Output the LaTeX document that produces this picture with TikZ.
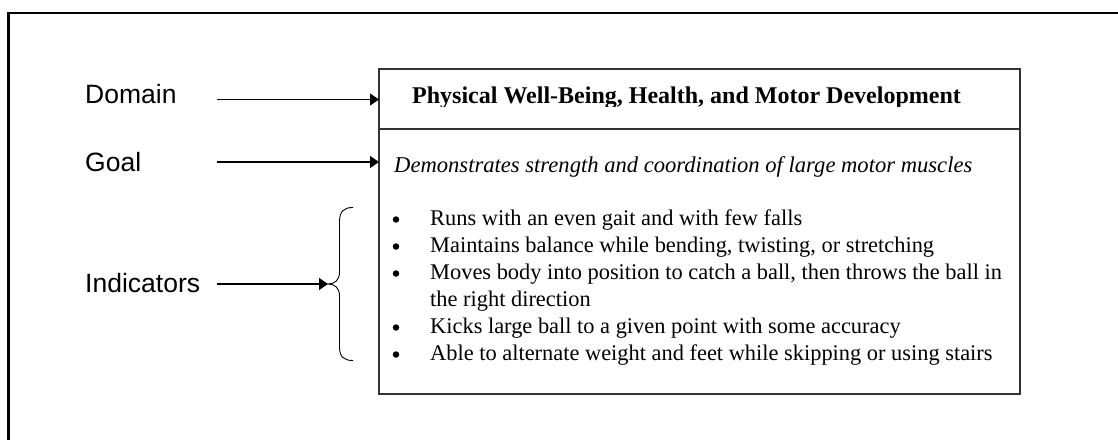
\documentclass[tikz,border=0pt]{standalone}
\usepackage{fontspec}
\setmainfont{Liberation Serif}
\newfontfamily\arialfont{Liberation Sans}
\usetikzlibrary{arrows.meta}
\definecolor{boxgray}{HTML}{333333}
\tikzset{
  lbl/.style={anchor=base west, inner sep=0pt, font=\arialfont\fontsize{26.5}{30}\selectfont},
  conn/.style={line width=1.1pt, -{Triangle[length=9pt,width=12pt]}},
  itemtxt/.style={anchor=base west, inner sep=0pt, font=\fontsize{22.4}{27}\selectfont},
  bul/.style={circle, fill=black, inner sep=0pt, minimum size=6.5pt},
}
\begin{document}
\begin{tikzpicture}[x=1pt,y=-1pt]
\useasboundingbox (0,0) rectangle (1118,439);
% outer frame (open at right and bottom)
\draw[line width=2.2pt] (8.5,440) -- (8.5,13) -- (1119,13);
% main box
\draw[boxgray, line width=1.6pt] (379,69) rectangle (1020,394);
\draw[boxgray, line width=1.6pt] (379,129) -- (1020,129);
% title (clipped at the bottom as in the reference)
\begin{scope}
  \clip (380,70) rectangle (1019,106);
  \node[anchor=base west, inner sep=0pt, font=\bfseries\fontsize{24}{28}\selectfont] (title) at (412,103) {Physical Well-Being, Health, and Motor Development};
\end{scope}
% goal text
\node[anchor=base west, inner sep=0pt, font=\itshape\fontsize{22.6}{27}\selectfont] (goaltxt) at (394,172.5) {Demonstrates strength and coordination of large motor muscles};
% indicators list
\node[bul] (b1) at (396,219.5) {};
\node[bul] (b2) at (396,246.5) {};
\node[bul] (b3) at (396,273.5) {};
\node[bul] (b4) at (396,327.5) {};
\node[bul] (b5) at (396,354.5) {};
\node[itemtxt] (i1) at (430,225) {Runs with an even gait and with few falls};
\node[itemtxt] (i2) at (430,252) {Maintains balance while bending, twisting, or stretching};
\node[itemtxt] (i3) at (430,279) {Moves body into position to catch a ball, then throws the ball in};
\node[itemtxt] (i3b) at (430,306) {the right direction};
\node[itemtxt] (i4) at (430,333) {Kicks large ball to a given point with some accuracy};
\node[itemtxt] (i5) at (430,360) {Able to alternate weight and feet while skipping or using stairs};
% labels
\node[lbl] (dom) at (85,103) {Domain};
\node[lbl] (goal) at (85,171.5) {Goal};
\node[lbl] (ind) at (85,292) {Indicators};
% connector ends
\coordinate (domstart) at (217,99.5);
\coordinate (domend) at (379,99.5);
\coordinate (goalstart) at (217,162);
\coordinate (goalend) at (379,162);
\coordinate (indstart) at (217,284);
\coordinate (braceTip) at (328,284);
\draw[conn] (domstart) -- (domend);
\draw[conn] (goalstart) -- (goalend);
\draw[conn] (indstart) -- (braceTip);
% brace
\draw[line width=0.9pt] (353,207.5) .. controls (344,207.5) and (339.5,211) .. (339.5,222)
  -- (339.5,272) .. controls (339.5,280) and (335,284) .. (braceTip)
  .. controls (335,284) and (339.5,288) .. (339.5,296)
  -- (339.5,347) .. controls (339.5,357) and (344,360.5) .. (353,360.5);
\end{tikzpicture}
\end{document}
